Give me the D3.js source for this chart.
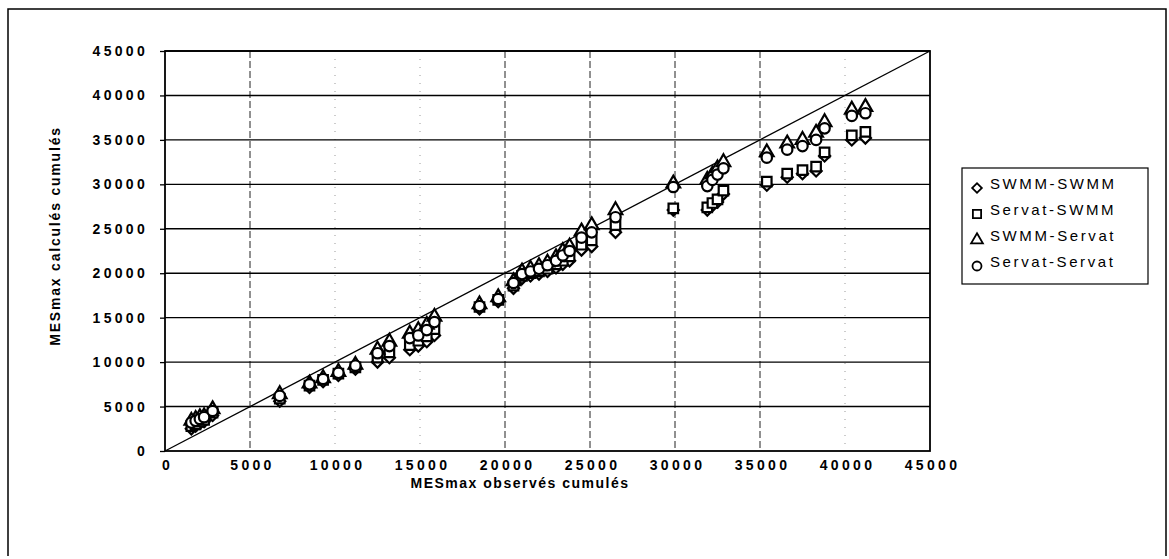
<!DOCTYPE html>
<html>
<head>
<meta charset="utf-8">
<script src="https://cdn.jsdelivr.net/npm/d3@7"></script>
<style>
  html, body { margin: 0; padding: 0; background: #fff; }
  svg { display: block; }
  text { font-family: "Liberation Sans", Arial, sans-serif; fill: #000; }
</style>
</head>
<body>
<svg id="chart" width="1169" height="559"></svg>
<script>
// ---- data ----
const observed     = [1550, 1800, 2050, 2300, 2800, 6750, 8500, 9300, 10200, 11200,
                      12500, 13200, 14400, 14900, 15400, 15850, 18500, 19600, 20500, 21000,
                      21500, 22000, 22500, 23000, 23400, 23800, 24500, 25100, 26500, 29900,
                      31900, 32200, 32500, 32850, 35400, 36600, 37500, 38300, 38800, 40400, 41200];
const swmmSwmm     = [2500, 2800, 3100, 3300, 4000, 5600, 7150, 7800, 8500, 9200,
                      10000, 10500, 11400, 11800, 12300, 13000, 16000, 16800, 18300, 19400,
                      19700, 19900, 20200, 20600, 21000, 21400, 22600, 23000, 24600, 27100,
                      27100, 27600, 28000, 28900, 29900, 30800, 31200, 31500, 33200, 35000, 35200];
const servatSwmm   = [2800, 3000, 3300, 3500, 4300, 5900, 7350, 8000, 8700, 9400,
                      10500, 11100, 11900, 12400, 12900, 13700, 16200, 17000, 18600, 19700,
                      20000, 20200, 20500, 21000, 21400, 21900, 23200, 23700, 25400, 27300,
                      27400, 27900, 28300, 29300, 30300, 31200, 31600, 32000, 33600, 35500, 35900];
const swmmServat   = [3400, 3600, 3800, 3900, 4700, 6400, 7600, 8200, 8900, 9700,
                      11400, 12300, 13200, 13600, 14200, 15100, 16500, 17300, 19100, 20200,
                      20500, 20800, 21200, 21800, 22500, 23000, 24700, 25400, 27100, 30100,
                      30500, 31100, 31800, 32500, 33600, 34600, 35000, 35800, 37000, 38400, 38700];
const servatServat = [3200, 3400, 3600, 3800, 4500, 6200, 7500, 8100, 8800, 9600,
                      11000, 11800, 12700, 13000, 13600, 14500, 16300, 17100, 18900, 19900,
                      20200, 20500, 20900, 21400, 22000, 22500, 24000, 24600, 26300, 29700,
                      29800, 30500, 31100, 31800, 33000, 33900, 34300, 35000, 36300, 37700, 38000];
const seriesNames  = ["SWMM-SWMM", "Servat-SWMM", "SWMM-Servat", "Servat-Servat"];
const tickValues   = [0, 5000, 10000, 15000, 20000, 25000, 30000, 35000, 40000, 45000];
const faintXGrid   = [10000, 15000, 40000];
const xTitle = "MESmax observés cumulés";
const yTitle = "MESmax calculés cumulés";

const seriesValues = [swmmSwmm, servatSwmm, swmmServat, servatServat];
// diamond is drawn as a square turned by 45 degrees
const symbols  = [d3.symbolSquare, d3.symbolSquare, d3.symbolTriangle, d3.symbolCircle];
const rotation = [45, 0, 0, 0];
const symSizes = [62, 90, 80, 85];

// ---- layout ----
const svg = d3.select("#chart");
const L = 165, R = 930, T = 51, B = 451;
const x = d3.scaleLinear().domain([0, 45000]).range([L, R]);
const y = d3.scaleLinear().domain([0, 45000]).range([B, T]);

// outer frame
svg.append("path")
  .attr("d", "M8,556 L8,9 L1166,9 L1166,556")
  .attr("fill", "none").attr("stroke", "#000").attr("stroke-width", 1.5);

// vertical gridlines (dashed)
svg.append("g").selectAll("line")
  .data(tickValues.filter(v => v > 0 && v < 45000))
  .join("line")
  .attr("x1", d => x(d)).attr("x2", d => x(d))
  .attr("y1", T).attr("y2", B)
  .attr("stroke", d => faintXGrid.includes(d) ? "#999" : "#222")
  .attr("stroke-width", 1)
  .attr("stroke-dasharray", d => faintXGrid.includes(d) ? "1,7" : "7,3");

// horizontal gridlines (solid)
svg.append("g").selectAll("line")
  .data(tickValues.filter(v => v > 0))
  .join("line")
  .attr("x1", L).attr("x2", R)
  .attr("y1", d => y(d)).attr("y2", d => y(d))
  .attr("stroke", "#000").attr("stroke-width", 1.4);

// plot border
svg.append("rect")
  .attr("x", L).attr("y", T).attr("width", R - L).attr("height", B - T)
  .attr("fill", "none").attr("stroke", "#000").attr("stroke-width", 1.8);

const fontFam = '"Liberation Sans", Arial, sans-serif';

// axes
const yAxis = d3.axisLeft(y).tickValues(tickValues).tickSize(5).tickPadding(12).tickFormat(d3.format("d"));
const gy = svg.append("g").attr("transform", `translate(${L},0)`).call(yAxis);
gy.select(".domain").remove();
gy.selectAll("line").attr("stroke", "#000").attr("stroke-width", 1.3);
gy.selectAll("text")
  .attr("font-size", 14).attr("font-weight", "bold")
  .attr("letter-spacing", "3.3px").attr("fill", "#000")
  .style("font-family", fontFam);

const xAxis = d3.axisBottom(x).tickValues(tickValues).tickSize(0).tickPadding(9).tickFormat(d3.format("d"));
const gx = svg.append("g").attr("transform", `translate(0,${B})`).call(xAxis);
gx.select(".domain").remove();
gx.selectAll("text")
  .attr("font-size", 14).attr("font-weight", "bold")
  .attr("letter-spacing", "3.3px").attr("fill", "#000")
  .attr("dx", "2")
  .style("font-family", fontFam);

// 1:1 line
svg.append("line")
  .attr("x1", x(0)).attr("y1", y(0)).attr("x2", x(45000)).attr("y2", y(45000))
  .attr("stroke", "#000").attr("stroke-width", 1.3);

// markers
seriesValues.forEach((vals, i) => {
  svg.append("g").selectAll("path")
    .data(observed.map((o, j) => [o, vals[j]]))
    .join("path")
    .attr("transform", d => `translate(${x(d[0])},${y(d[1])}) rotate(${rotation[i]})`)
    .attr("d", d3.symbol().type(symbols[i]).size(symSizes[i]))
    .attr("fill", "#fff").attr("stroke", "#000").attr("stroke-width", 2.2);
});

// axis titles
svg.append("text")
  .attr("x", 520).attr("y", 488)
  .attr("text-anchor", "middle")
  .attr("font-size", 14).attr("font-weight", "bold").attr("letter-spacing", "1.5px")
  .text(xTitle);
svg.append("text")
  .attr("transform", "translate(60,236) rotate(-90)")
  .attr("text-anchor", "middle")
  .attr("font-size", 14).attr("font-weight", "bold").attr("letter-spacing", "1.8px")
  .text(yTitle);

// legend
const lg = svg.append("g");
lg.append("rect")
  .attr("x", 962).attr("y", 168).attr("width", 186).attr("height", 116)
  .attr("fill", "#fff").attr("stroke", "#000").attr("stroke-width", 1.2);
seriesNames.forEach((name, i) => {
  const cy = 184 + i * 26;
  lg.append("path")
    .attr("transform", `translate(977,${cy + 4}) rotate(${rotation[i]})`)
    .attr("d", d3.symbol().type(symbols[i]).size(symSizes[i] * 0.75))
    .attr("fill", "#fff").attr("stroke", "#000").attr("stroke-width", 1.8);
  lg.append("text")
    .attr("x", 990).attr("y", cy + 5)
    .attr("font-size", 15).attr("letter-spacing", "2.6px")
    .text(name);
});
</script>
</body>
</html>
